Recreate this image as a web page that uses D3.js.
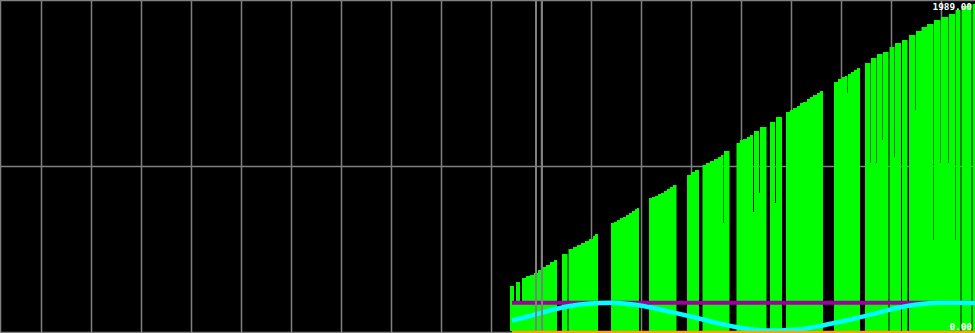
<!DOCTYPE html>
<html>
<head>
<meta charset="utf-8">
<script src="https://cdn.jsdelivr.net/npm/d3@7"></script>
<style>
html,body{margin:0;padding:0;background:#000;overflow:hidden;}
svg{display:block;}
</style>
</head>
<body>
<svg id="chart" width="975" height="333"></svg>
<script>
// ---- data (time in minutes of session, values in units) ----
const barTimes = [204.0,205.6,206.4,208.0,208.8,210.4,212.0,213.6,215.2,216.8,218.4,220.0,221.6,222.8,224.8,227.0,227.4,229.2,230.8,232.4,234.0,235.6,237.2,238.0,239.2,244.4,245.6,246.8,248.0,249.2,250.4,251.6,252.8,254.0,254.8,255.6,259.6,260.8,262.0,263.2,264.4,265.6,266.8,268.0,269.2,270.6,274.8,276.4,278.0,279.6,281.0,282.4,284.0,285.6,287.2,288.4,289.4,289.6,291.8,294.6,296.0,297.2,298.8,300.0,301.2,301.6,303.6,304.0,306.6,308.0,310.0,310.4,312.8,314.4,316.0,317.2,318.8,320.0,321.2,322.8,324.0,325.2,326.8,328.0,329.2,333.6,335.2,336.8,338.0,339.0,339.2,340.4,341.6,342.8,344.0,346.0,348.2,348.4,350.6,350.8,353.0,353.2,355.4,355.8,357.8,358.0,360.4,360.8,363.0,363.6,366.2,366.4,368.6,370.8,373.4,373.6,376.2,376.4,379.4,379.6,382.0,382.2,384.2,384.6,387.0,388.6,389.0,390.0];
const barValues = [274,180,298,180,322,335,341,353,371,389,401,420,432,0,468,0,499,511,523,535,547,560,578,590,0,657,663,675,687,693,706,718,730,742,748,0,809,815,821,833,840,852,864,876,888,0,949,967,979,0,1010,1022,1034,1046,1058,1071,657,1095,0,1144,1162,1168,1180,1192,724,1217,839,1241,0,1271,779,1302,0,1332,1344,1357,1369,1387,1393,1411,1423,1436,1448,1460,0,1515,1533,1545,1551,1448,1563,1576,1588,1600,0,1630,1022,1661,1022,1685,1162,1697,0,1728,1058,1752,0,1770,0,1801,1344,1825,1849,1867,554,1892,1022,1910,1022,1928,554,1953,0,1977,1989,0,1989,1989];

const waveTimes = [204.8,212.0,220.0,228.0,236.0,244.8,253.2,261.2,269.2,277.2,285.2,293.2,301.2,310.0,318.8,326.8,334.8,342.8,350.8,358.8,366.8,375.2,382.8,390.0];
const waveValues = [64,91,125,152,167,172,161,140,113,85,55,27,9,3,9,27,52,79,109,140,161,172,172,170];

const levelTimes = [204.8,390.0];
const levelValues = [172,172];
const baseValues = [0,0];

const gridTimes = [16.6,36.6,56.6,76.6,96.6,116.6,136.6,156.6,176.6,196.6,216.6,236.6,256.6,276.6,296.6,316.6,336.6,356.6,376.6];
const gridValues = [1000];
const markerTimes = [214.4,216.8];
const yLabels = [1989,0];

// ---- drawing ----
const W = 975, H = 333;
const svg = d3.select("#chart");
svg.append("rect").attr("width", W).attr("height", H).attr("fill", "#000");

const x = d3.scaleLinear().domain([0, 390]).range([0, W]);
const y = d3.scaleLinear().domain([0, 1989]).range([331, 4]);

const grid = svg.append("g").attr("stroke", "#808080").attr("stroke-width", 1.5);
grid.selectAll(".v").data(gridTimes).join("line")
  .attr("x1", d => x(d)).attr("x2", d => x(d)).attr("y1", 0).attr("y2", H);
grid.selectAll(".h").data(gridValues).join("line")
  .attr("x1", 0).attr("x2", W).attr("y1", d => Math.round(y(d)) - 0.5).attr("y2", d => Math.round(y(d)) - 0.5);
// frame
grid.append("line").attr("x1", 0.5).attr("x2", 0.5).attr("y1", 0).attr("y2", H);
grid.append("line").attr("x1", 0).attr("x2", W).attr("y1", 0.5).attr("y2", 0.5);
grid.append("line").attr("x1", 0).attr("x2", W).attr("y1", 332.5).attr("y2", 332.5);

const bars = barTimes.map((t, i) => ({t, v: barValues[i]}));
const area = d3.area().x(d => x(d.t)).y0(y(0)).y1(d => y(d.v)).curve(d3.curveStepAfter);
svg.append("path").datum(bars).attr("d", area).attr("fill", "#00ff00");

const lineGen = d3.line().x(d => x(d.t)).y(d => y(d.v));
const level = levelTimes.map((t, i) => ({t, v: levelValues[i]}));
svg.append("path").datum(level).attr("d", lineGen).attr("fill", "none")
  .attr("stroke", "#a000a0").attr("stroke-width", 4);

const wave = waveTimes.map((t, i) => ({t, v: waveValues[i]}));
svg.append("path").datum(wave).attr("d", lineGen.curve(d3.curveMonotoneX)).attr("fill", "none")
  .attr("stroke", "#00ffff").attr("stroke-width", 4.5);

svg.selectAll(".marker").data(markerTimes).join("line")
  .attr("x1", d => x(d)).attr("x2", d => x(d)).attr("y1", 0).attr("y2", H)
  .attr("stroke", "#808080").attr("stroke-width", 2);

const base = levelTimes.map((t, i) => ({t, v: baseValues[i]}));
svg.append("path").datum(base).attr("d", d3.line().x(d => x(d.t)).y(d => y(d.v))).attr("fill", "none")
  .attr("transform", "translate(0,1)")
  .attr("stroke", "#ffa500").attr("stroke-width", 2.4);

svg.selectAll(".lbl").data(yLabels).join("text")
  .attr("x", 972)
  .attr("y", d => Math.min(Math.max(y(d) + 6, 10), 330))
  .attr("text-anchor", "end")
  .attr("fill", "#ffffff")
  .attr("font-family", "DejaVu Sans Mono, monospace")
  .attr("font-weight", "bold")
  .attr("font-size", "9.4px")
  .text(d => d3.format(".2f")(d));
</script>
</body>
</html>
